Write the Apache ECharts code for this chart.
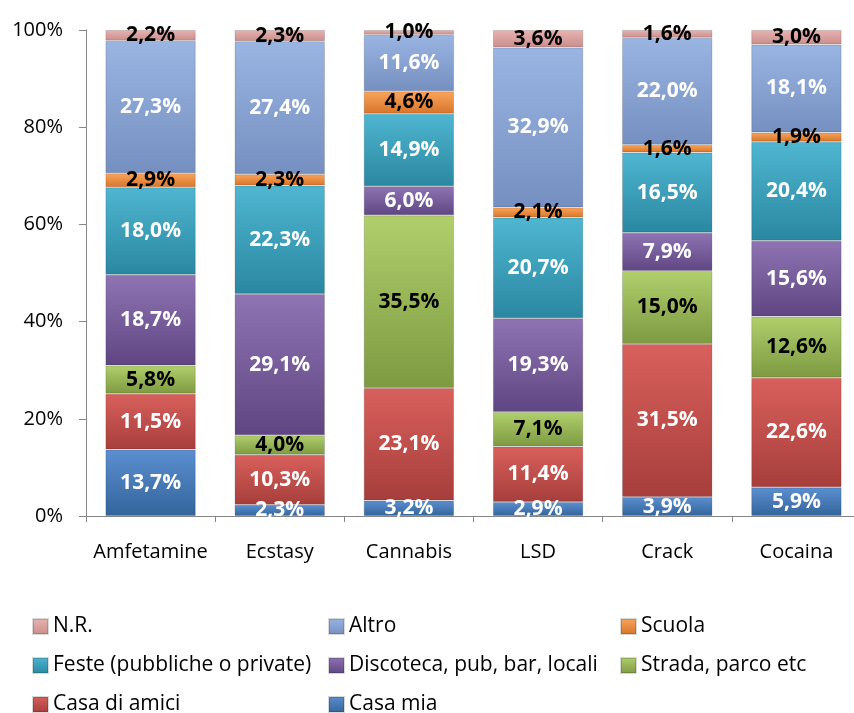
<!DOCTYPE html>
<html><head><meta charset="utf-8">
<script src="https://cdn.jsdelivr.net/npm/echarts@6/dist/echarts.min.js"></script>
<style>html,body{margin:0;padding:0;background:#fff}#c{width:854px;height:713px}</style>
</head><body><div id="c"></div>
<script>
const categories = ['Amfetamine','Ecstasy','Cannabis','LSD','Crack','Cocaina'];
const seriesNames = ['Casa mia','Casa di amici','Strada, parco etc','Discoteca, pub, bar, locali','Feste (pubbliche o private)','Scuola','Altro','N.R.'];
const casaMia = [13.7, 2.3, 3.2, 2.9, 3.9, 5.9];
const casaAmici = [11.5, 10.3, 23.1, 11.4, 31.5, 22.6];
const strada = [5.8, 4.0, 35.5, 7.1, 15.0, 12.6];
const discoteca = [18.7, 29.1, 6.0, 19.3, 7.9, 15.6];
const feste = [18.0, 22.3, 14.9, 20.7, 16.5, 20.4];
const scuola = [2.9, 2.3, 4.6, 2.1, 1.6, 1.9];
const altro = [27.3, 27.4, 11.6, 32.9, 22.0, 18.1];
const nr = [2.2, 2.3, 1.0, 3.6, 1.6, 3.0];
const yTicks = ['0%','20%','40%','60%','80%','100%'];
const legendRows = [
  ['N.R.','Altro','Scuola'],
  ['Feste (pubbliche o private)','Discoteca, pub, bar, locali','Strada, parco etc'],
  ['Casa di amici','Casa mia']
];

const allVals = [casaMia, casaAmici, strada, discoteca, feste, scuola, altro, nr];
const colors = [
  ['#5b8fd0','#33649b'],
  ['#d9605c','#a63e3b'],
  ['#b0cf6c','#7d9a41'],
  ['#8f74b3','#5f4682'],
  ['#4fb6d1','#2a87a1'],
  ['#fba45c','#d6752a'],
  ['#9ab5e2','#758fc0'],
  ['#e8b3b1','#c88e8c']
];
const labelColors = ['#fff','#fff','#000','#fff','#fff','#000','#fff','#000'];
const totals = categories.map((c,i)=>allVals.reduce((s,a)=>s+a[i],0));
const FONT = '"Open Sans", sans-serif';

const series = allVals.map((arr, k) => ({
  name: seriesNames[k],
  type: 'bar',
  stack: 'tot',
  barWidth: '70%',
  data: arr.map((v,i)=>({value: v/totals[i]*100, raw: v})),
  itemStyle: {
    color: {type:'linear',x:0,y:0,x2:0,y2:1,colorStops:[{offset:0,color:colors[k][0]},{offset:1,color:colors[k][1]}]},
    borderColor: 'rgba(0,0,0,0.15)', borderWidth: 1
  },
  label: {
    show: true, position: 'inside',
    color: labelColors[k], fontFamily: FONT, fontWeight: 'bold', fontSize: 21,
    formatter: p => p.data.raw.toFixed(1).replace('.', ',') + '%'
  }
}));

const colX = [32, 328, 620];
const rowY = [616, 655, 694];
const legends = [];
legendRows.forEach((row, r) => row.forEach((name, c) => {
  legends.push({left: colX[c], top: rowY[r], itemWidth: 15, itemHeight: 15, icon: 'rect',
    data: [name], textStyle: {fontFamily: FONT, fontSize: 21, color: '#000', padding:[0,0,0,0]}, padding: 0});
}));

const chart = echarts.init(document.getElementById('c'));
chart.setOption({
  animation:false,
  grid:{left:86, top:30, width:775, height:486, outerBoundsMode:'none', containLabel:false},
  xAxis:{type:'category', data:categories,
    axisLine:{lineStyle:{color:'#868686'}},
    axisTick:{show:true, length:6, lineStyle:{color:'#868686'}},
    axisLabel:{fontFamily:FONT, fontSize:20, color:'#000', margin:26, interval:0}},
  yAxis:{type:'value', min:0, max:100, interval:20,
    axisLine:{show:true, lineStyle:{color:'#868686'}},
    axisTick:{show:true, length:7, lineStyle:{color:'#868686'}},
    splitLine:{show:false},
    axisLabel:{fontFamily:FONT, fontSize:20, color:'#000', margin:23,
      formatter: v => yTicks[Math.round(v/20)]}},
  legend: legends,
  series: series
});
</script></body></html>
